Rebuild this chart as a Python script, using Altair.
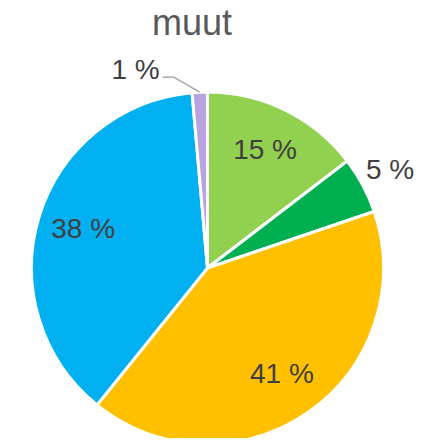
import altair as alt
import pandas as pd

segments = ["osa 1", "osa 2", "osa 3", "osa 4", "osa 5"]
values = [14.6, 5.2, 41.0, 37.8, 1.4]
labels = ["15 %", "5 %", "41 %", "38 %", "1 %"]
colors = ["#92D050", "#00B050", "#FFC000", "#00B0F0", "#B9A2E0"]
title_text = "muut"

df = pd.DataFrame({
    "segment": segments,
    "value": values,
    "label": labels,
    "idx": list(range(len(values))),
})

CX = 199.5
CY = 260
R = 176
FONT = "Liberation Sans"

base = alt.Chart(df).encode(
    theta=alt.Theta("value:Q", stack=True),
    order=alt.Order("idx:O"),
    x=alt.value(CX),
    y=alt.value(CY),
)

pie = base.mark_arc(outerRadius=R, stroke="white", strokeWidth=3).encode(
    color=alt.Color("segment:N", scale=alt.Scale(domain=segments, range=colors), legend=None)
)

inside = base.mark_text(radius=130, fontSize=28, font=FONT, color="#404040").encode(
    text=alt.condition("datum.value > 10", "label:N", alt.value(""))
)

outside = base.mark_text(radius=207, fontSize=28, font=FONT, color="#404040").encode(
    text=alt.condition("datum.value > 2 && datum.value < 10", "label:N", alt.value(""))
)

calc = (
    alt.Chart(df)
    .transform_window(cum="sum(value)", sort=[alt.SortField("idx")])
    .transform_joinaggregate(total="sum(value)")
    .transform_calculate(
        mid="2*PI*(datum.cum - datum.value/2)/datum.total",
        ex=f"{CX} + {R} * sin(datum.mid)",
        ey=f"{CY} - {R} * cos(datum.mid)",
        kx="datum.ex - 26",
        ky="datum.ey - 15",
        hx="datum.kx - 11",
        tx="datum.kx - 14",
    )
    .transform_filter("datum.value < 2")
)

leader1 = calc.mark_rule(color="#A6A6A6", strokeWidth=1.5).encode(
    x=alt.X("ex:Q", scale=None), y=alt.Y("ey:Q", scale=None),
    x2="kx:Q", y2="ky:Q",
)
leader2 = calc.mark_rule(color="#A6A6A6", strokeWidth=1.5).encode(
    x=alt.X("kx:Q", scale=None), y=alt.Y("ky:Q", scale=None),
    x2="hx:Q", y2="ky:Q",
)
small_label = calc.mark_text(fontSize=28, font=FONT, color="#404040", align="right", baseline="middle", dy=-6).encode(
    x=alt.X("tx:Q", scale=None), y=alt.Y("ky:Q", scale=None), text="label:N"
)

title = alt.Chart(pd.DataFrame({"t": [title_text]})).mark_text(
    fontSize=36, font=FONT, color="#595959", align="center", baseline="alphabetic"
).encode(x=alt.value(184), y=alt.value(27), text="t:N")

chart = alt.layer(pie, inside, outside, leader1, leader2, small_label, title).properties(
    width=423,
    height=430,
    autosize=alt.AutoSizeParams(type="none"),
    padding=0,
).configure_view(stroke=None)

chart.save("out.html", embed_options={"renderer": "svg", "actions": False})
